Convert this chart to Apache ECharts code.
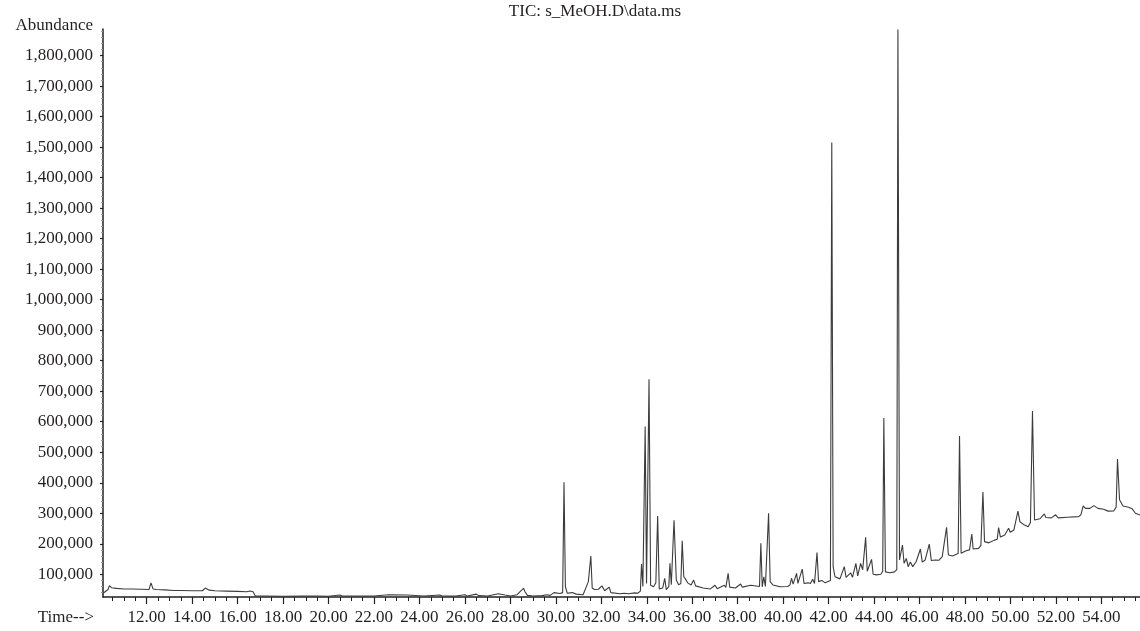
<!DOCTYPE html>
<html>
<head>
<meta charset="utf-8">
<script src="https://cdn.jsdelivr.net/npm/echarts@6/dist/echarts.min.js"></script>
<style>
html,body{margin:0;padding:0;background:#fff;}
#chart{width:1140px;height:631px;}
</style>
</head>
<body>
<div id="chart"></div>
<script>
// Retention time (min)
const retentionTime = [
10.08,10.30,10.36,10.45,10.68,11.00,11.41,11.68,11.74,11.80,12.10,12.19,12.28,12.44,12.80,13.20,13.40,13.46,13.52,14.00,
14.45,14.58,14.64,14.75,15.00,15.50,16.00,16.40,16.55,16.68,16.78,17.20,18.00,18.80,18.86,18.92,19.50,20.00,20.50,20.60,
21.30,22.00,22.63,22.70,23.44,23.50,24.20,24.90,25.00,25.60,26.00,26.10,26.50,26.60,27.00,27.47,27.55,27.76,28.00,28.30,
28.45,28.52,28.58,28.65,28.75,29.00,29.40,29.60,29.75,29.92,30.00,30.18,30.30,30.36,30.42,30.50,30.72,30.90,31.20,31.43,
31.48,31.54,31.60,31.70,31.87,31.95,32.03,32.15,32.35,32.42,32.82,33.00,33.20,33.48,33.60,33.72,33.77,33.83,33.93,33.99,
34.04,34.10,34.17,34.30,34.40,34.48,34.55,34.70,34.79,34.86,34.97,35.02,35.08,35.20,35.30,35.40,35.50,35.56,35.63,35.70,
35.80,35.95,36.06,36.15,36.48,36.80,37.00,37.10,37.41,37.48,37.58,37.65,37.90,38.13,38.20,38.57,38.65,38.96,39.02,39.08,
39.15,39.22,39.36,39.43,39.55,39.86,40.20,40.30,40.37,40.44,40.59,40.65,40.84,40.92,41.10,41.20,41.30,41.38,41.49,41.56,
41.70,41.85,42.08,42.14,42.20,42.28,42.50,42.69,42.77,42.85,42.97,43.05,43.20,43.28,43.41,43.50,43.63,43.70,43.89,43.96,
44.10,44.30,44.38,44.43,44.50,44.70,44.90,45.00,45.05,45.12,45.25,45.32,45.42,45.50,45.60,45.70,45.85,46.04,46.12,46.25,
46.43,46.52,46.70,46.85,47.00,47.19,47.27,47.45,47.60,47.70,47.76,47.83,48.05,48.20,48.30,48.36,48.60,48.70,48.79,48.86,
49.05,49.30,49.42,49.48,49.56,49.75,49.92,49.99,50.15,50.33,50.42,50.60,50.78,50.88,50.97,51.06,51.30,51.49,51.56,51.80,
51.99,52.10,52.50,53.00,53.10,53.20,53.30,53.50,53.67,53.85,54.10,54.30,54.55,54.65,54.71,54.80,54.95,55.20,55.35,55.50,
55.70
];
// Total ion current abundance
const abundance = [
38000,50000,63000,56000,54000,52000,52000,51000,57000,51000,50000,72000,52000,50000,49000,47000,47000,53000,47000,46000,
46000,55000,57000,48000,46000,45000,44000,43000,45000,43000,29000,29000,28000,29000,35000,29000,29000,28000,32000,29000,
29000,29000,33000,29000,32000,29000,29000,32000,29000,29000,33000,29000,35000,30000,29000,36000,30000,32000,29000,33000,
45000,40000,54000,42000,31000,29000,30000,33000,31000,40000,34000,37000,40000,402000,60000,38000,40000,35000,33000,76000,
70000,160000,55000,50000,51000,48000,62000,46000,58000,40000,36000,38000,36000,39000,38000,45000,134000,60000,584000,70000,
68000,739000,64000,59000,72000,291000,52000,55000,87000,50000,60000,136000,66000,277000,81000,66000,70000,210000,92000,85000,
72000,65000,81000,62000,55000,52000,64000,53000,64000,57000,103000,58000,55000,68000,58000,64000,58000,60000,202000,59000,
92000,60000,300000,76000,65000,59000,60000,65000,87000,68000,103000,70000,117000,70000,72000,70000,84000,70000,171000,76000,
80000,72000,80000,1515000,125000,92000,85000,125000,90000,95000,105000,90000,136000,95000,136000,115000,221000,110000,149000,100000,
98000,100000,110000,612000,108000,105000,108000,115000,1885000,147000,196000,136000,152000,125000,140000,125000,141000,183000,140000,147000,
199000,145000,147000,146000,158000,254000,163000,160000,165000,168000,553000,169000,177000,180000,232000,183000,185000,195000,370000,207000,
203000,212000,215000,253000,222000,229000,251000,238000,245000,307000,272000,262000,256000,270000,635000,278000,282000,298000,286000,285000,
295000,285000,287000,289000,295000,324000,316000,316000,325000,316000,313000,307000,308000,320000,478000,344000,324000,320000,315000,300000,
294000
];
// Tick / label values
const xLabelValues = [12,14,16,18,20,22,24,26,28,30,32,34,36,38,40,42,44,46,48,50,52,54];
const xMinorValues = [10.5,11,11.5,12.5,13,13.5,14.5,15,15.5,16.5,17,17.5,18.5,19,19.5,20.5,21,21.5,22.5,23,23.5,24.5,25,25.5,26.5,27,27.5,28.5,29,29.5,30.5,31,31.5,32.5,33,33.5,34.5,35,35.5,36.5,37,37.5,38.5,39,39.5,40.5,41,41.5,42.5,43,43.5,44.5,45,45.5,46.5,47,47.5,48.5,49,49.5,50.5,51,51.5,52.5,53,53.5,54.5,55,55.5];
const yLabelValues = [100000,200000,300000,400000,500000,600000,700000,800000,900000,1000000,1100000,1200000,1300000,1400000,1500000,1600000,1700000,1800000];
const yMinorValues = [40000,60000,80000,120000,140000,160000,180000,220000,240000,260000,280000,320000,340000,360000,380000,420000,440000,460000,480000,520000,540000,560000,580000,620000,640000,660000,680000,720000,740000,760000,780000,820000,840000,860000,880000,920000,940000,960000,980000,1020000,1040000,1060000,1080000,1120000,1140000,1160000,1180000,1220000,1240000,1260000,1280000,1320000,1340000,1360000,1380000,1420000,1440000,1460000,1480000,1520000,1540000,1560000,1580000,1620000,1640000,1660000,1680000,1720000,1740000,1760000,1780000,1820000,1840000,1860000,1880000];

const X_MIN = 10.078, X_MAX = 55.70;
const Y_MIN = 25600, Y_MAX = 1887000;
const FONT = 'Liberation Serif';
const TXT = '#231f20';

const points = retentionTime.map((t, i) => [t, abundance[i]]);

const chart = echarts.init(document.getElementById('chart'), null, {renderer: 'canvas'});
chart.setOption({
  animation: false,
  backgroundColor: '#ffffff',
  grid: {left: 103, right: 0, top: 29, bottom: 34, containLabel: false},
  xAxis: [{
    type: 'value', min: X_MIN, max: X_MAX, position: 'bottom',
    axisLine: {show: true, lineStyle: {color: '#231f20', width: 1.5}},
    axisTick: {show: true, customValues: xLabelValues, length: 7, lineStyle: {color: '#231f20', width: 1.2}},
    axisLabel: {show: true, customValues: xLabelValues, formatter: v => Number(v).toFixed(2), margin: 12,
      fontFamily: FONT, fontSize: 17, color: TXT},
    splitLine: {show: false}
  }, {
    type: 'value', min: X_MIN, max: X_MAX, position: 'bottom', offset: 0,
    axisLine: {show: false},
    axisTick: {show: true, customValues: xMinorValues, length: 4, lineStyle: {color: '#231f20', width: 1}},
    axisLabel: {show: false},
    splitLine: {show: false}
  }],
  yAxis: [{
    type: 'value', min: Y_MIN, max: Y_MAX, position: 'left',
    axisLine: {show: true, lineStyle: {color: '#231f20', width: 1.5}},
    axisTick: {show: true, customValues: yLabelValues, length: 3, lineStyle: {color: '#231f20', width: 1.2}},
    axisLabel: {show: true, customValues: yLabelValues, formatter: v => Number(v).toLocaleString('en-US'), margin: 10,
      fontFamily: FONT, fontSize: 17, color: TXT, padding: [0, 0, 9, 0]},
    splitLine: {show: false}
  }, {
    type: 'value', min: Y_MIN, max: Y_MAX, position: 'left', offset: 0,
    axisLine: {show: false},
    axisTick: {show: true, customValues: yMinorValues, length: 2, lineStyle: {color: '#9a9a9a', width: 1}},
    axisLabel: {show: false},
    splitLine: {show: false}
  }],
  series: [{
    type: 'line', xAxisIndex: 0, yAxisIndex: 0,
    data: points, showSymbol: false, symbol: 'none', smooth: false,
    lineStyle: {color: '#3c3c3c', width: 1.1}, clip: true
  }],
  graphic: [
    {type: 'text', x: 595, y: 3, style: {text: 'TIC: s_MeOH.D\\data.ms', fontFamily: FONT, fontSize: 17, fill: TXT, textAlign: 'center', textVerticalAlign: 'top'}},
    {type: 'text', x: 93, y: 26, style: {text: 'Abundance', fontFamily: FONT, fontSize: 17, fill: TXT, textAlign: 'right', textVerticalAlign: 'middle'}},
    {type: 'text', x: 94, y: 618, style: {text: 'Time-->', fontFamily: FONT, fontSize: 17, fill: TXT, textAlign: 'right', textVerticalAlign: 'middle'}}
  ]
});
</script>
</body>
</html>
